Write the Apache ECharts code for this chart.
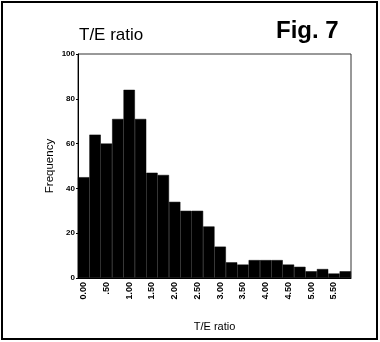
<!DOCTYPE html>
<html><head><meta charset="utf-8">
<script src="https://cdn.jsdelivr.net/npm/echarts@6/dist/echarts.min.js"></script>
<style>html,body{margin:0;padding:0;background:#fff}#c{width:380px;height:342px}</style>
</head><body><div id="c"></div>
<script>
var binCenters = ['0.00','.25','.50','.75','1.00','1.25','1.50','1.75','2.00','2.25','2.50','2.75','3.00','3.25','3.50','3.75','4.00','4.25','4.50','4.75','5.00','5.25','5.50','5.75'];
var frequency = [45,64,60,71,84,71,47,46,34,30,30,23,14,7,6,8,8,8,6,5,3,4,2,3];
var yTicks = [0,20,40,60,80,100];

var chart = echarts.init(document.getElementById('c'));
chart.setOption({
  animation: false,
  backgroundColor: '#fff',
  title: [
    {text: 'T/E ratio', left: 74, top: 22, textStyle: {fontFamily: 'Liberation Sans', fontSize: 17, fontWeight: 'normal', color: '#000'}},
    {text: 'Fig. 7', left: 271, top: 14, textStyle: {fontFamily: 'Liberation Sans', fontSize: 24, fontWeight: 'bold', color: '#000'}}
  ],
  graphic: [
    {type: 'rect', shape: {x: 2, y: 2, width: 375, height: 337}, style: {fill: 'none', stroke: '#000', lineWidth: 2}, silent: true}
  ],
  grid: {left: 78, right: 29, top: 54, bottom: 64, show: true, borderColor: '#333', borderWidth: 1, backgroundColor: 'transparent'},
  xAxis: {
    type: 'category',
    data: binCenters,
    boundaryGap: true,
    name: 'T/E ratio', nameLocation: 'middle', nameGap: 43,
    nameTextStyle: {fontFamily: 'Liberation Sans', fontSize: 11, color: '#000'},
    axisLine: {lineStyle: {color: '#000', width: 1}},
    axisTick: {alignWithLabel: true, interval: 1, length: 3, lineStyle: {color: '#000'}},
    axisLabel: {interval: 1, rotate: 90, margin: 4, fontFamily: 'Liberation Sans', fontSize: 9, fontWeight: 'bold', color: '#000'},
    splitLine: {show: false}
  },
  yAxis: {
    type: 'value', min: 0, max: 100, interval: 20,
    name: 'Frequency', nameLocation: 'middle', nameGap: 22, nameRotate: 90, nameMoveOverlap: false,
    nameTextStyle: {fontFamily: 'Liberation Sans', fontSize: 11.5, color: '#000'},
    axisLine: {show: true, lineStyle: {color: '#000', width: 1}},
    axisTick: {show: true, length: 2, lineStyle: {color: '#000'}},
    axisLabel: {margin: 3, fontFamily: 'Liberation Sans', fontSize: 8, fontWeight: 'bold', color: '#000',
      formatter: function (v) { return yTicks.indexOf(v) >= 0 ? String(v) : ''; }},
    splitLine: {show: false}
  },
  series: [{
    type: 'bar', data: frequency, barCategoryGap: '0%',
    itemStyle: {color: '#000', borderColor: '#000', borderWidth: 0.5}
  }]
});
</script></body></html>
